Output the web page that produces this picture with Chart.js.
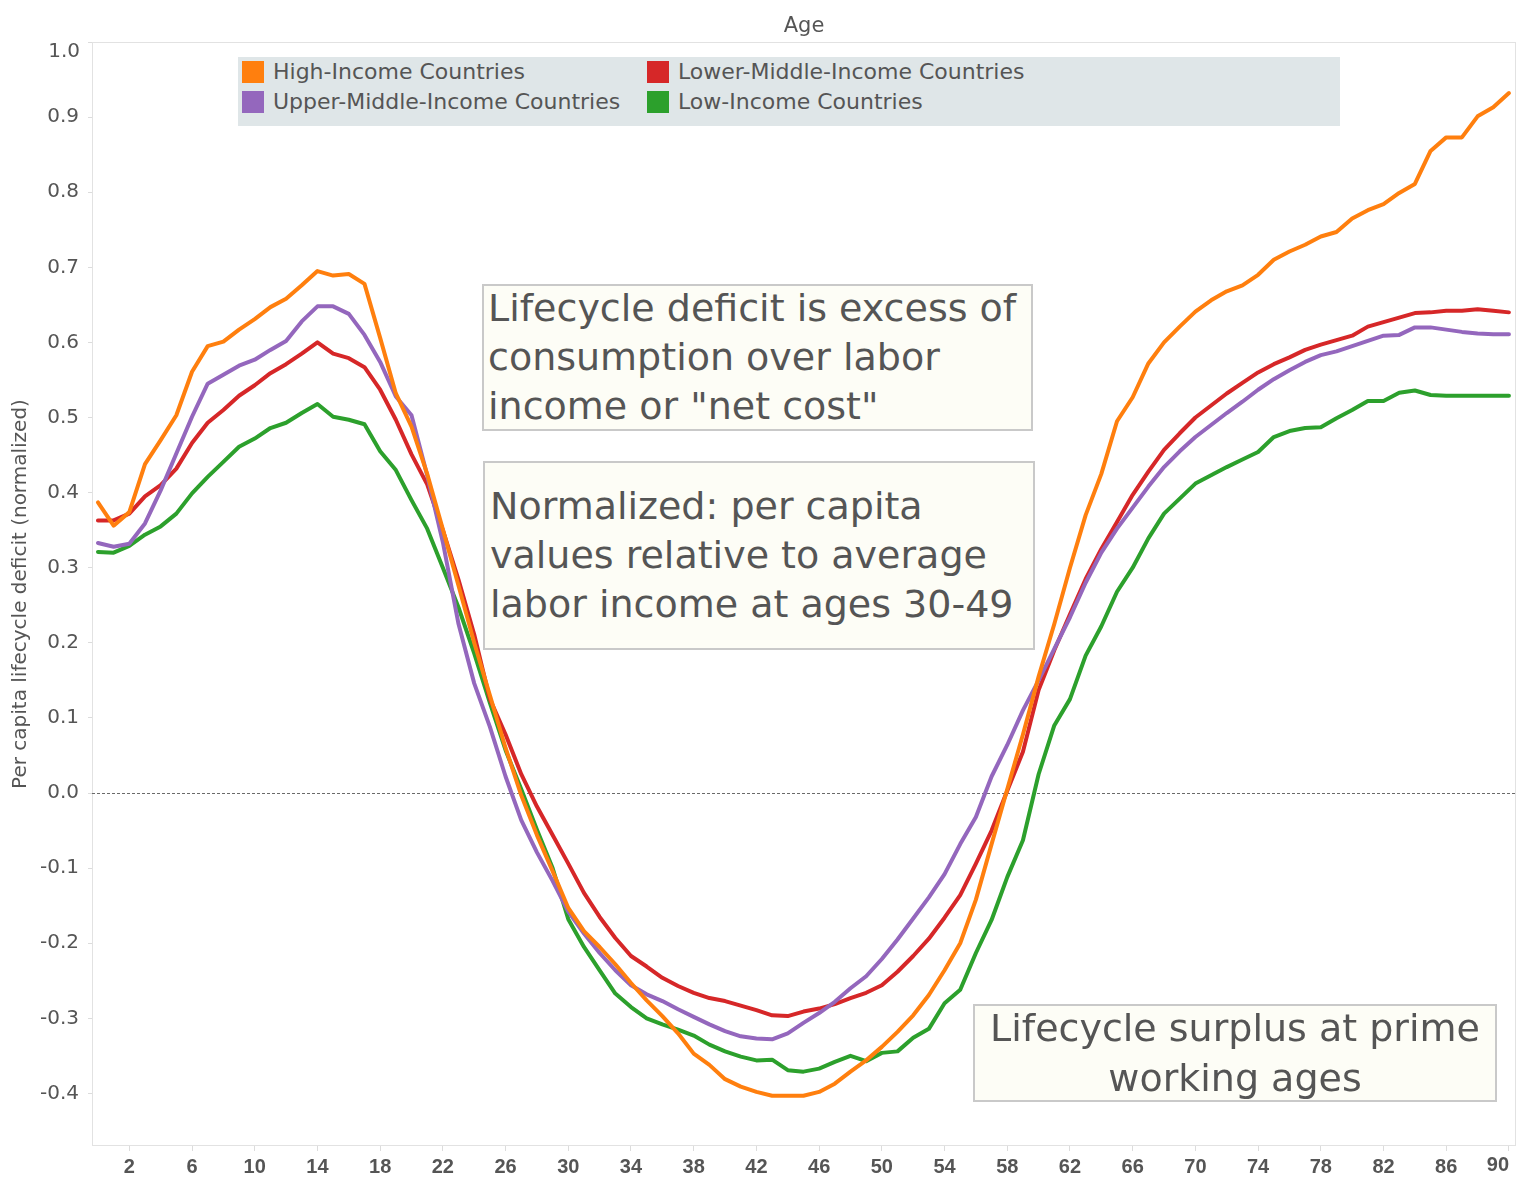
<!DOCTYPE html>
<html><head><meta charset="utf-8">
<script src="https://cdn.jsdelivr.net/npm/chart.js@4/dist/chart.umd.min.js"></script>
<style>
html,body{margin:0;padding:0;background:#fff;}
#wrap{position:relative;width:1521px;height:1193px;overflow:hidden;}
#c{position:absolute;left:0;top:0;}
.note{position:absolute;box-sizing:border-box;background:#fdfdf6;border:2px solid #c9c9c9;color:#555;font-family:"DejaVu Sans",sans-serif;font-size:38px;line-height:49px;white-space:nowrap;}
.note .in{position:relative;}
#legend{position:absolute;left:238px;top:57px;width:1102px;height:69px;background:#dfe6e8;font-family:"DejaVu Sans",sans-serif;font-size:22px;color:#555;}
.li{position:absolute;height:26px;line-height:26px;}
.sw{position:absolute;width:22px;height:22px;left:0;top:2px;}
.lt{position:absolute;left:31px;top:0;white-space:nowrap;}
</style></head>
<body>
<div id="wrap">
<canvas id="c" width="1521" height="1193"></canvas>
<div id="legend"></div>
<div class="note" style="left:482px;top:284px;width:551px;height:147px;padding:0 0 0 4px;"><div class="in" style="top:-2px">Lifecycle deficit is excess of<br>consumption over labor<br>income or "net cost"</div></div>
<div class="note" style="left:483px;top:461px;width:552px;height:189px;padding:19px 0 0 5px;"><div class="in">Normalized: per capita<br>values relative to average<br>labor income at ages 30-49</div></div>
<div class="note" style="left:973px;top:1004px;width:524px;height:98px;padding:0;text-align:center;line-height:50px;"><div class="in" style="top:-3px">Lifecycle surplus at prime<br>working ages</div></div>
</div>
<script>
const ages = [0,1,2,3,4,5,6,7,8,9,10,11,12,13,14,15,16,17,18,19,20,21,22,23,24,25,26,27,28,29,30,31,32,33,34,35,36,37,38,39,40,41,42,43,44,45,46,47,48,49,50,51,52,53,54,55,56,57,58,59,60,61,62,63,64,65,66,67,68,69,70,71,72,73,74,75,76,77,78,79,80,81,82,83,84,85,86,87,88,89,90];

const seriesNames = ['High-Income Countries','Upper-Middle-Income Countries','Lower-Middle-Income Countries','Low-Income Countries'];

const highIncome = [0.387,0.356,0.374,0.438,0.470,0.503,0.561,0.595,0.601,0.617,0.631,0.647,0.658,0.676,0.695,0.689,0.691,0.678,0.606,0.532,
0.488,0.425,0.351,0.276,0.200,0.130,0.060,-0.003,-0.056,-0.104,
-0.153,-0.184,-0.205,-0.228,-0.253,-0.276,-0.297,-0.320,-0.347,-0.362,
-0.381,-0.391,-0.398,-0.403,-0.403,-0.403,-0.398,-0.387,-0.371,-0.356,
-0.338,-0.318,-0.296,-0.269,-0.236,-0.200,-0.142,-0.068,0.005,0.078,
0.155,0.225,0.300,0.370,0.425,0.495,0.527,0.572,0.600,0.621,
0.641,0.656,0.668,0.676,0.690,0.710,0.721,0.730,0.741,0.747,
0.765,0.776,0.784,0.799,0.811,0.855,0.873,0.873,0.901,0.913,0.932];

const upperMiddle = [0.333,0.328,0.332,0.359,0.403,0.452,0.501,0.545,0.557,0.569,0.577,0.590,0.602,0.628,0.648,0.648,0.638,0.610,0.574,0.528,
0.503,0.423,0.334,0.225,0.146,0.088,0.022,-0.036,-0.079,-0.117,
-0.158,-0.187,-0.213,-0.236,-0.256,-0.268,-0.277,-0.288,-0.298,-0.308,
-0.317,-0.324,-0.327,-0.328,-0.320,-0.306,-0.293,-0.278,-0.260,-0.244,
-0.221,-0.195,-0.167,-0.139,-0.108,-0.068,-0.032,0.022,0.064,0.110,
0.150,0.192,0.234,0.280,0.320,0.352,0.380,0.408,0.434,0.455,
0.474,0.490,0.506,0.521,0.537,0.551,0.563,0.574,0.583,0.588,
0.595,0.602,0.609,0.610,0.620,0.620,0.617,0.614,0.612,0.611,0.611];

const lowerMiddle = [0.363,0.363,0.372,0.395,0.410,0.432,0.466,0.493,0.510,0.529,0.543,0.559,0.571,0.585,0.600,0.585,0.579,0.567,0.537,0.497,
0.451,0.411,0.350,0.284,0.211,0.125,0.078,0.025,-0.018,-0.056,
-0.094,-0.133,-0.165,-0.193,-0.217,-0.231,-0.246,-0.257,-0.266,-0.273,
-0.277,-0.283,-0.289,-0.296,-0.297,-0.291,-0.287,-0.281,-0.273,-0.266,
-0.256,-0.238,-0.217,-0.194,-0.166,-0.136,-0.094,-0.050,0.003,0.055,
0.137,0.190,0.238,0.285,0.325,0.361,0.397,0.428,0.457,0.479,
0.500,0.516,0.532,0.546,0.560,0.571,0.580,0.590,0.597,0.603,
0.609,0.621,0.627,0.633,0.639,0.640,0.642,0.642,0.644,0.642,0.640];

const lowIncome = [0.321,0.320,0.329,0.344,0.355,0.372,0.399,0.421,0.441,0.461,0.472,0.486,0.493,0.506,0.518,0.501,0.497,0.491,0.455,0.430,
0.390,0.352,0.300,0.247,0.186,0.120,0.057,0.005,-0.049,-0.100,
-0.168,-0.205,-0.236,-0.267,-0.285,-0.300,-0.308,-0.315,-0.323,-0.335,
-0.344,-0.351,-0.356,-0.355,-0.369,-0.371,-0.367,-0.358,-0.350,-0.357,
-0.346,-0.344,-0.326,-0.314,-0.280,-0.262,-0.213,-0.169,-0.112,-0.063,
0.025,0.090,0.125,0.183,0.222,0.268,0.300,0.339,0.372,0.392,
0.412,0.423,0.434,0.444,0.454,0.474,0.482,0.486,0.487,0.499,
0.510,0.522,0.522,0.533,0.536,0.530,0.529,0.529,0.529,0.529,0.529];

const xTickValues = [2,6,10,14,18,22,26,30,34,38,42,46,50,54,58,62,66,70,74,78,82,86,90];
const yTickValues = [-0.4,-0.3,-0.2,-0.1,0.0,0.1,0.2,0.3,0.4,0.5,0.6,0.7,0.8,0.9,1.0];

const seriesValues = [highIncome, upperMiddle, lowerMiddle, lowIncome];
const colors = ['#ff7f0e','#9467bd','#d62728','#2ca02c'];
const FONT = '"DejaVu Sans", sans-serif';
const XFONT = '"Liberation Sans", Arial, sans-serif';
const TXT = '#555555';

// HTML legend (two columns: High / Upper-Middle, then Lower-Middle / Low)
const legendPos = [[4,2],[4,32],[409,2],[409,32]];
const leg = document.getElementById('legend');
seriesNames.forEach((n,i)=>{
  const d = document.createElement('div');
  d.className='li'; d.style.left=legendPos[i][0]+'px'; d.style.top=legendPos[i][1]+'px';
  d.innerHTML = '<div class="sw" style="background:'+colors[i]+'"></div><div class="lt"></div>';
  d.querySelector('.lt').textContent = n;
  leg.appendChild(d);
});

const framePlugin = {
  id:'frame',
  beforeDatasetsDraw(chart){
    const {ctx, chartArea:a, scales} = chart;
    ctx.save();
    ctx.strokeStyle='#e2e2e2'; ctx.lineWidth=1;
    ctx.strokeRect(a.left+0.5, a.top+0.5, a.right-a.left-1, a.bottom-a.top-1);
    const y0 = Math.round(scales.y.getPixelForValue(0))+0.5;
    ctx.setLineDash([3,2]); ctx.strokeStyle='#6a6a6a';
    ctx.beginPath(); ctx.moveTo(a.left,y0); ctx.lineTo(a.right,y0); ctx.stroke();
    ctx.restore();
  },
  afterDraw(chart){
    const {ctx, scales} = chart;
    ctx.save();
    ctx.fillStyle=TXT;
    ctx.font = '20px '+FONT; ctx.textAlign='right'; ctx.textBaseline='middle';
    ctx.fillText('1.0', scales.y.right-12, scales.y.getPixelForValue(1.0)+10);
    ctx.font = 'bold 20px '+XFONT; ctx.textAlign='center'; ctx.textBaseline='top';
    ctx.fillText('90', scales.x.getPixelForValue(90)-11, scales.x.top+9);
    ctx.restore();
  }
};

const datasets = seriesValues.map((arr,i)=>({
  label: seriesNames[i],
  data: arr.map((v,j)=>({x:ages[j], y:v})),
  borderColor: colors[i], backgroundColor: colors[i],
  borderWidth: 4, pointRadius: 0, tension: 0, fill:false,
  borderJoinStyle:'round', borderCapStyle:'round'
}));

new Chart(document.getElementById('c'), {
  type:'line',
  data:{datasets},
  plugins:[framePlugin],
  options:{
    responsive:false, animation:false, devicePixelRatio:1,
    layout:{padding:{left:0,right:5,top:0,bottom:0}},
    plugins:{legend:{display:false}, tooltip:{enabled:false}},
    scales:{
      x:{type:'linear', position:'bottom', min:-0.38, max:90.45,
        afterBuildTicks:s=>{ s.ticks = xTickValues.map(v=>({value:v})); },
        afterFit:s=>{ s.height=47; },
        grid:{drawOnChartArea:false, drawTicks:true, tickLength:5, tickColor:'#dcdcdc', color:'#dcdcdc'},
        border:{display:false},
        ticks:{autoSkip:false, maxRotation:0, minRotation:0, padding:4, color:TXT,
          font:{family:XFONT, size:20, weight:'bold'},
          callback:v=> v===90 ? '' : String(v)}
      },
      xTop:{type:'linear', position:'top', min:-0.38, max:90.45,
        afterFit:s=>{ s.height=42; },
        grid:{display:false}, border:{display:false}, ticks:{display:false},
        title:{display:true, text:'Age', color:TXT, font:{family:FONT, size:21}, padding:{top:14,bottom:0}}
      },
      y:{type:'linear', min:-0.47, max:1.0,
        afterBuildTicks:s=>{ s.ticks = yTickValues.map(v=>({value:v})); },
        afterFit:s=>{ s.width=92; },
        grid:{drawOnChartArea:false, drawTicks:true, tickLength:4, tickColor:'#dcdcdc', color:'#dcdcdc'},
        border:{display:false},
        ticks:{padding:9, color:TXT, font:{family:FONT, size:20},
          callback:v=> Math.abs(v-1)<1e-9 ? '' : (Math.abs(v)<1e-9 ? '0.0' : v.toFixed(1))},
        title:{display:true, text:'Per capita lifecycle deficit (normalized)', color:TXT,
          font:{family:FONT, size:20}, padding:{top:9,bottom:4}}
      }
    }
  }
});
</script>
</body></html>
